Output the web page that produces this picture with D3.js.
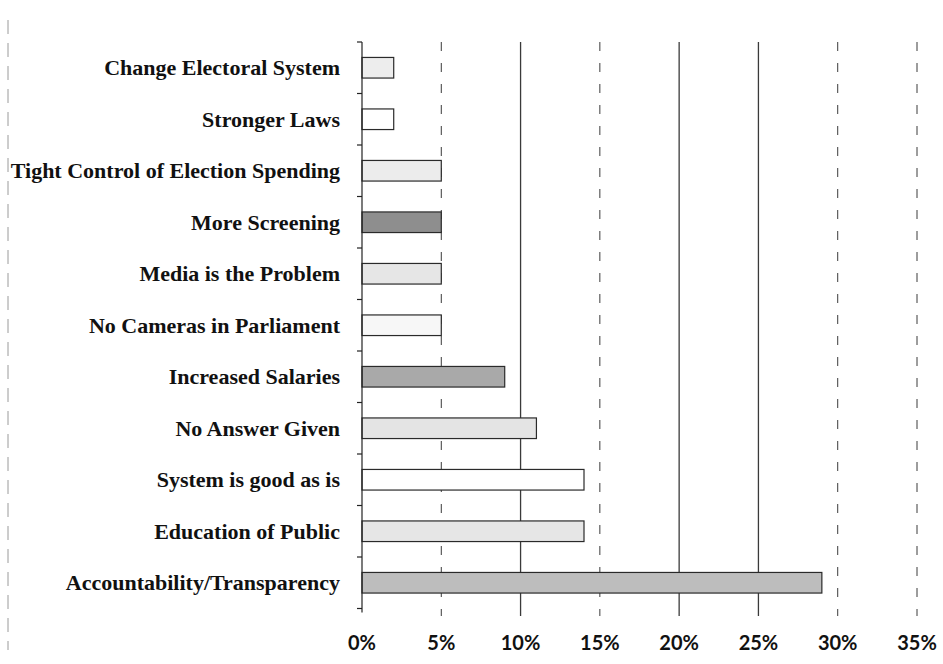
<!DOCTYPE html>
<html>
<head>
<meta charset="utf-8">
<script src="https://cdn.jsdelivr.net/npm/d3@7"></script>
<style>
  html, body { margin: 0; padding: 0; background: #fff; }
  svg { display: block; }
</style>
</head>
<body>
<svg id="chart" width="943" height="664"></svg>
<script>
const categories = [
  "Change Electoral System",
  "Stronger Laws",
  "Tight Control of Election Spending",
  "More Screening",
  "Media is the Problem",
  "No Cameras in Parliament",
  "Increased Salaries",
  "No Answer Given",
  "System is good as is",
  "Education of Public",
  "Accountability/Transparency"
];
const values = [0.02, 0.02, 0.05, 0.05, 0.05, 0.05, 0.09, 0.11, 0.14, 0.14, 0.29];
const fills = ["#ededed", "#ffffff", "#ececec", "#8e8e8e", "#e6e6e6", "#f7f7f7",
               "#a9a9a9", "#e4e4e4", "#ffffff", "#e6e6e6", "#bdbdbd"];
const tickValues = [0, 0.05, 0.10, 0.15, 0.20, 0.25, 0.30, 0.35];
const tickLabels = ["0%", "5%", "10%", "15%", "20%", "25%", "30%", "35%"];
const solidGrid = [0.10, 0.20, 0.25];

const svg = d3.select("#chart");

const x = d3.scaleLinear().domain([0, 0.35]).range([362, 917]);
const y = d3.scaleBand().domain(categories).range([42, 608.5])
  .paddingInner(0.6).paddingOuter(0.3);

// scan border artefact on the left
svg.append("line")
  .attr("x1", 8).attr("x2", 8).attr("y1", 20).attr("y2", 650)
  .attr("stroke", "#9a9a9a").attr("stroke-width", 1)
  .attr("stroke-dasharray", "14,9");

// gridlines
svg.append("g").selectAll("line")
  .data(tickValues.slice(1))
  .join("line")
  .attr("x1", d => x(d)).attr("x2", d => x(d))
  .attr("y1", 42).attr("y2", 616)
  .attr("stroke", "#3a3a3a")
  .attr("stroke-width", d => solidGrid.includes(d) ? 1.3 : 1)
  .attr("stroke-dasharray", d => solidGrid.includes(d) ? null : "9,12");

// bars
svg.append("g").selectAll("rect")
  .data(categories)
  .join("rect")
  .attr("x", x(0))
  .attr("y", d => y(d))
  .attr("width", (d, i) => x(values[i]) - x(0))
  .attr("height", y.bandwidth())
  .attr("fill", (d, i) => fills[i])
  .attr("stroke", "#2a2a2a")
  .attr("stroke-width", 1.2);

// y axis line and ticks between categories
const step = y.step();
const y0 = y.range()[0];
svg.append("line")
  .attr("x1", x(0)).attr("x2", x(0))
  .attr("y1", y0).attr("y2", y.range()[1] + 4)
  .attr("stroke", "#222").attr("stroke-width", 1.2);
svg.append("g").selectAll("line")
  .data(d3.range(categories.length + 1))
  .join("line")
  .attr("x1", x(0) - 5).attr("x2", x(0))
  .attr("y1", i => y0 + i * step).attr("y2", i => y0 + i * step)
  .attr("stroke", "#222").attr("stroke-width", 1.2);

// category labels
svg.append("g").selectAll("text")
  .data(categories)
  .join("text")
  .attr("x", 340)
  .attr("y", d => y(d) + y.bandwidth() / 2)
  .attr("dy", "0.35em")
  .attr("text-anchor", "end")
  .attr("font-family", "'Liberation Serif', 'DejaVu Serif', serif")
  .attr("font-weight", "bold")
  .attr("font-size", 22)
  .attr("fill", "#111")
  .text(d => d);

// x tick labels
svg.append("g").selectAll("text")
  .data(tickValues)
  .join("text")
  .attr("x", d => x(d))
  .attr("y", 643)
  .attr("dy", "0.35em")
  .attr("text-anchor", "middle")
  .attr("font-family", "Lato, 'Liberation Sans', sans-serif")
  .attr("font-weight", "bold")
  .attr("font-size", 20)
  .attr("fill", "#111")
  .text((d, i) => tickLabels[i]);
</script>
</body>
</html>
